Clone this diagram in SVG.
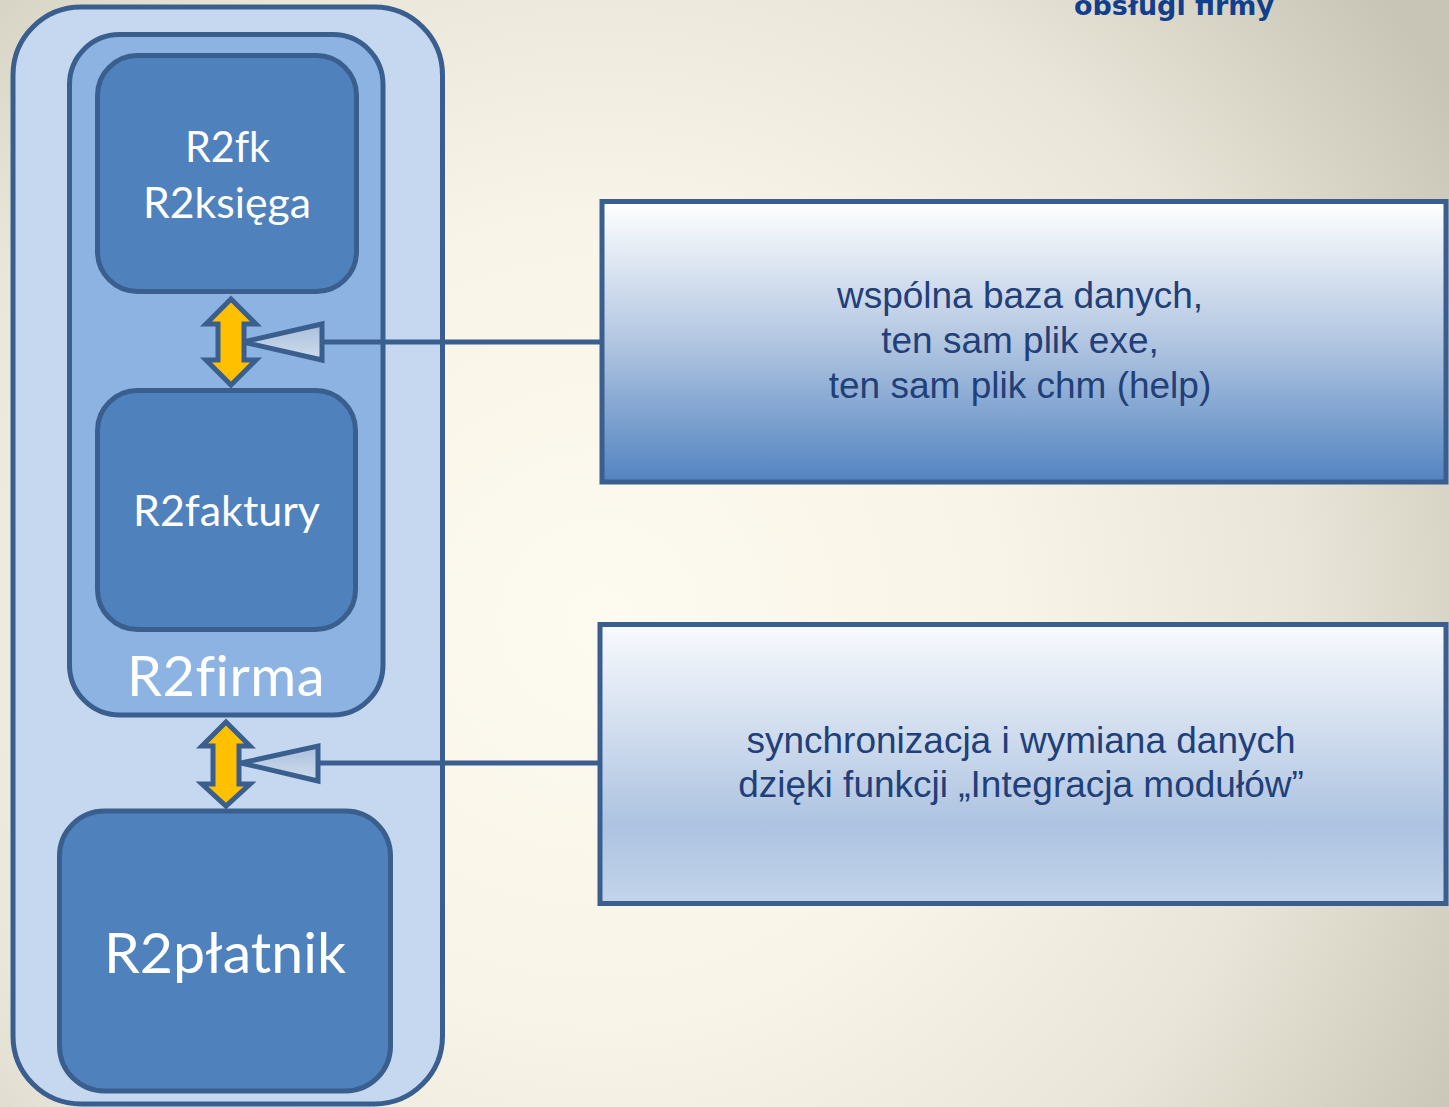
<svg xmlns="http://www.w3.org/2000/svg" width="1449" height="1107" viewBox="0 0 1449 1107">
<defs>
<radialGradient id="bg" gradientUnits="userSpaceOnUse" cx="600" cy="620" r="1000">
<stop offset="0" stop-color="#fdfaf0"/>
<stop offset="0.4" stop-color="#f8f4e7"/>
<stop offset="0.7" stop-color="#e9e6d9"/>
<stop offset="1" stop-color="#c8c5b6"/>
</radialGradient>
<linearGradient id="g1" x1="0" y1="0" x2="0" y2="1">
<stop offset="0" stop-color="#ffffff"/>
<stop offset="0.5" stop-color="#b2c6e1"/>
<stop offset="1" stop-color="#5283c0"/>
</linearGradient>
<linearGradient id="g2" x1="0" y1="0" x2="0" y2="1">
<stop offset="0" stop-color="#f8fafd"/>
<stop offset="0.72" stop-color="#adc3e1"/>
<stop offset="1" stop-color="#c3d4ea"/>
</linearGradient>
<linearGradient id="tri" x1="0" y1="0" x2="0" y2="1">
<stop offset="0" stop-color="#a9bfdc"/>
<stop offset="1" stop-color="#d0dded"/>
</linearGradient>
<style>
.b{stroke:#3a5f8f;stroke-width:5}
.node{font-family:Lato,"Open Sans","Liberation Sans",sans-serif;fill:#ffffff;text-anchor:middle;font-variant-ligatures:none;font-feature-settings:"liga" 0}
.lbl{font-family:"Liberation Sans",Arial,sans-serif;font-size:37px;fill:#223f78;text-anchor:middle}
.dbl{fill:#ffc000;stroke:#3a5f8f;stroke-width:5;stroke-linejoin:miter}
.ptr{fill:url(#tri);stroke:#3a5f8f;stroke-width:5;stroke-linejoin:miter}
.ln{fill:none;stroke:#3a5f8f;stroke-width:5}
</style>
</defs>
<rect width="1449" height="1107" fill="url(#bg)"/>
<text x="1174" y="15" font-family="'DejaVu Sans',Verdana,sans-serif" font-weight="bold" font-size="27" fill="#123f8c" text-anchor="middle" textLength="200" lengthAdjust="spacingAndGlyphs">obsługi firmy</text>

<g id="outer">
<rect class="b" x="13" y="7" width="429.5" height="1097" rx="68" fill="#c5d8ef"/>
</g>
<g id="r2firma">
<rect class="b" x="69.5" y="34.5" width="313.5" height="680.5" rx="50" fill="#8db3e2"/>
<text class="node" x="226" y="696" font-size="57" letter-spacing="0.5" textLength="198" lengthAdjust="spacingAndGlyphs">R2firma</text>
</g>
<g id="r2fk">
<rect class="b" x="97.5" y="55.5" width="259" height="236" rx="40" fill="#4f81bd"/>
<text class="node" x="227.5" y="162" font-size="42" textLength="85" lengthAdjust="spacingAndGlyphs">R2fk</text>
<text class="node" x="227" y="218" font-size="42" textLength="168" lengthAdjust="spacingAndGlyphs">R2księga</text>
</g>
<g id="r2faktury">
<rect class="b" x="97.5" y="390.5" width="258" height="239" rx="40" fill="#4f81bd"/>
<text class="node" x="226.5" y="526" font-size="42" textLength="187" lengthAdjust="spacingAndGlyphs">R2faktury</text>
</g>
<g id="r2platnik">
<rect class="b" x="59.5" y="811" width="331" height="280" rx="45" fill="#4f81bd"/>
<text class="node" x="225" y="973" font-size="57" textLength="242" lengthAdjust="spacingAndGlyphs">R2płatnik</text>
</g>
<g id="box1">
<rect class="b" x="602" y="201.5" width="844" height="280.5" fill="url(#g1)"/>
<text class="lbl" x="1020" y="308">wspólna baza danych,</text>
<text class="lbl" x="1020" y="353">ten sam plik exe,</text>
<text class="lbl" x="1020" y="398">ten sam plik chm (help)</text>
</g>
<g id="box2">
<rect class="b" x="600" y="624.5" width="846" height="279" fill="url(#g2)"/>
<text class="lbl" x="1021" y="753">synchronizacja i wymiana danych</text>
<text class="lbl" x="1021" y="797">dzięki funkcji „Integracja modułów”</text>
</g>
<g id="connectors">
<path class="dbl" d="M231,299 L256,324 L244,324 L244,360 L256,360 L231,385 L206,360 L218,360 L218,324 L206,324 Z"/>
<line class="ln" x1="322" y1="342" x2="602" y2="342"/>
<path class="ptr" d="M243,342 L322,324 L322,360 Z"/>
<path class="dbl" d="M226,722 L250,746 L239,746 L239,784 L250,784 L226,806 L202,784 L213,784 L213,746 L202,746 Z"/>
<line class="ln" x1="318" y1="763" x2="600" y2="763"/>
<path class="ptr" d="M241,763 L318,746 L318,781 Z"/>
</g>
</svg>
